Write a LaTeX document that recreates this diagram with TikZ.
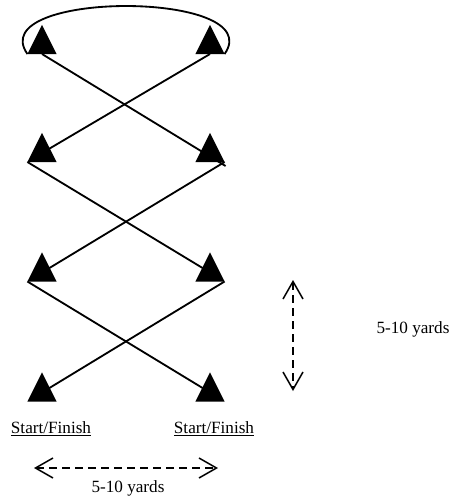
\documentclass[tikz,border=0pt]{standalone}
\usepackage{fontspec}
\setmainfont{Liberation Serif}
\usetikzlibrary{shapes.geometric}
\usetikzlibrary{arrows.meta}
\usetikzlibrary{calc}

\begin{document}
\begin{tikzpicture}[
    x=0.6pt,
    y=-0.6pt,
    line width=1.1pt,
    font=\fontsize{10.3}{12}\selectfont
]
\tikzstyle{cone}=[isosceles triangle, shape border rotate=90, isosceles triangle stretches, minimum width=17.5pt, minimum height=17.5pt, fill=black, inner sep=0pt, outer sep=0pt]
\tikzstyle{span}=[dashed, dash pattern=on 4.8pt off 3pt, line width=0.9pt, {Straight Barb[length=10.5pt,width=12pt]}-{Straight Barb[length=10.5pt,width=12pt]}]

\useasboundingbox (0,0) rectangle (452,497);

% Cones
\node[cone] (l1) at (42,45) {};
\node[cone] (r1) at (210,45) {};
\node[cone] (l2) at (42,153) {};
\node[cone] (r2) at (210,153) {};
\node[cone] (l3) at (42,272.5) {};
\node[cone] (r3) at (210,272.5) {};
\node[cone] (l4) at (42,392.5) {};
\node[cone] (r4) at (210,392.5) {};

% Labels
\node (s1) at (51,429) {\underline{Start/Finish}};
\node (s2) at (214,429) {\underline{Start/Finish}};

% Route
\draw (l1.south) -- ($(r2.right corner)+(1,4)$);
\draw (r1.south) -- (l2.center);
\draw (l2.left corner) -- (r3.center);
\draw (r2.right corner) -- (l3.center);
\draw (l3.left corner) -- (r4.center);
\draw (r3.right corner) -- (l4.center);
\draw (l1.left corner) .. controls +(-45,-64) and +(45,-64) .. (r1.right corner);

% Distances
\coordinate (h1) at (34,468);
\coordinate (h2) at (218,468);
\draw[span] (h1) -- (h2);
\node (hd) at (128,488) {5-10 yards};

\coordinate (v1) at (293,280);
\coordinate (v2) at (293,391);
\draw[span] (v1) -- (v2);
\node (vd) at (413,329) {5-10 yards};

\end{tikzpicture}
\end{document}
